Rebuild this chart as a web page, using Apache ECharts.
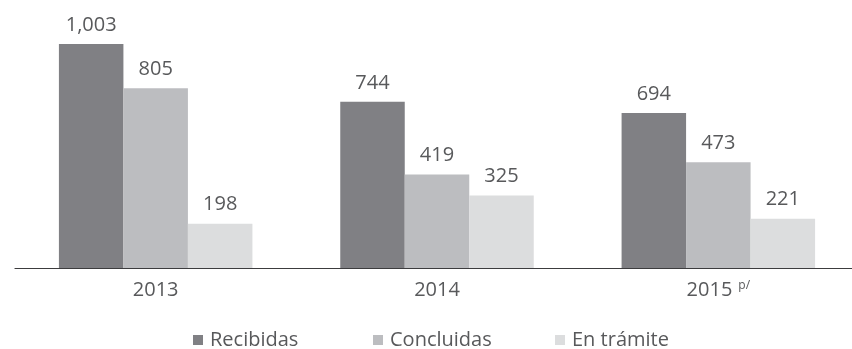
<!DOCTYPE html>
<html>
<head>
<meta charset="utf-8">
<script src="https://cdn.jsdelivr.net/npm/echarts@6/dist/echarts.min.js"></script>
<style>
  html, body { margin: 0; padding: 0; background: #ffffff; }
  #chart { width: 852px; height: 349px; }
</style>
</head>
<body>
<div id="chart"></div>
<script>
// Solicitudes por año
const categories = ['2013', '2014', '2015'];
const recibidas = [1003, 744, 694];
const concluidas = [805, 419, 473];
const enTramite = [198, 325, 221];
const seriesNames = ['Recibidas', 'Concluidas', 'En trámite'];

const FONT = '"Open Sans", "Noto Sans", sans-serif';
const colors = ['#808084', '#bcbdc0', '#dcddde'];
const TEXT = '#58595b';

const chart = echarts.init(document.getElementById('chart'), null, { renderer: 'canvas' });

function barSeries(name, data, color) {
  return {
    name: name,
    type: 'bar',
    data: data,
    barWidth: 64.5,
    barGap: '0%',
    itemStyle: { color: color },
    label: {
      show: true,
      position: 'top',
      distance: 9,
      color: TEXT,
      fontFamily: FONT,
      fontSize: 20,
      formatter: p => p.value.toLocaleString('en-US')
    },
    emphasis: { disabled: true }
  };
}

// one legend block per series so each entry sits at its own x position
const legendLefts = [188, 368, 550];
const legends = seriesNames.map((n, i) => ({
  left: legendLefts[i],
  top: 325,
  itemWidth: 10,
  itemHeight: 10,
  icon: 'rect',
  selectedMode: false,
  textStyle: { color: TEXT, fontFamily: FONT, fontSize: 20, lineHeight: 20, padding: [0, 0, 0, 2] },
  data: [n]
}));

chart.setOption({
  animation: false,
  color: colors,
  grid: { left: 15, top: 0, width: 844, height: 268, containLabel: false, outerBoundsMode: 'none' },
  xAxis: {
    type: 'category',
    data: categories,
    axisTick: { show: false },
    axisLine: { lineStyle: { color: '#3c3c3e', width: 1.2 } },
    axisLabel: {
      margin: 12,
      color: TEXT,
      fontFamily: FONT,
      fontSize: 20,
      formatter: v => v === '2015' ? v + '{sup|p/}' : v,
      rich: {
        sup: { fontSize: 12, fontFamily: FONT, color: TEXT, verticalAlign: 'top', padding: [0, 0, 4, 6] }
      }
    }
  },
  yAxis: {
    type: 'value',
    min: 0,
    max: 1200,
    show: false,
    splitLine: { show: false }
  },
  legend: legends,
  series: [
    barSeries(seriesNames[0], recibidas, colors[0]),
    barSeries(seriesNames[1], concluidas, colors[1]),
    barSeries(seriesNames[2], enTramite, colors[2])
  ]
});
</script>
</body>
</html>
